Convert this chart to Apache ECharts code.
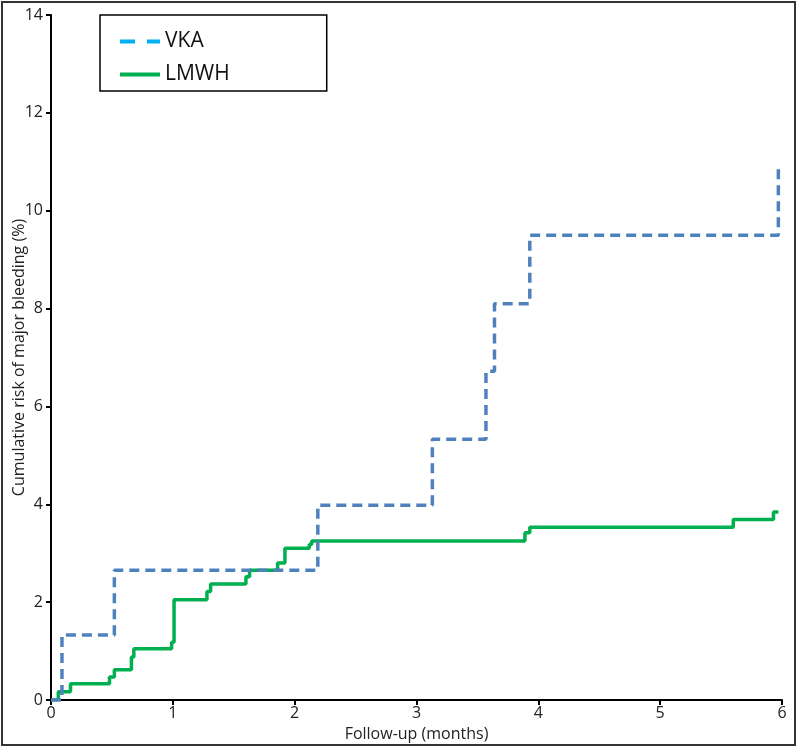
<!DOCTYPE html>
<html>
<head>
<meta charset="utf-8">
<script src="https://cdn.jsdelivr.net/npm/echarts@6/dist/echarts.min.js"></script>
<style>
html,body{margin:0;padding:0;background:#fff;}
#chart{width:797px;height:747px;}
</style>
</head>
<body>
<div id="chart"></div>
<script>
// Data (time in months, cumulative risk in %)
var vkaTimes  = [0, 0.09, 0.52, 2.19, 3.13, 3.57, 3.64, 3.93, 5.97];
var vkaRisk   = [0, 1.33, 2.65, 3.98, 5.33, 6.72, 8.10, 9.50, 10.92];
var lmwhTimes = [0, 0.06, 0.16, 0.48, 0.52, 0.66, 0.68, 0.99, 1.01, 1.28, 1.31, 1.60, 1.63, 1.86, 1.92, 2.12, 2.14, 3.89, 3.93, 5.60, 5.93, 5.97];
var lmwhRisk  = [0, 0.17, 0.33, 0.47, 0.62, 0.88, 1.05, 1.18, 2.05, 2.22, 2.37, 2.52, 2.65, 2.80, 3.10, 3.18, 3.25, 3.42, 3.53, 3.69, 3.84, 3.84];
var xTicks = [0, 1, 2, 3, 4, 5, 6];
var yTicks = [0, 2, 4, 6, 8, 10, 12, 14];

function pairs(xs, ys){ return xs.map(function(x,i){ return [x, ys[i]]; }); }

var FONT = 'Open Sans';
var chart = echarts.init(document.getElementById('chart'));
chart.setOption({
  animation: false,
  backgroundColor: '#fff',
  textStyle: {fontFamily: FONT},
  grid: {left: 51, right: 15, top: 15, bottom: 47, containLabel: false, outerBoundsMode: 'none'},
  graphic: [{
    type: 'rect', z: 100, silent: true,
    shape: {x: 2, y: 2, width: 793, height: 743},
    style: {fill: 'none', stroke: '#333', lineWidth: 2}
  }],
  legend: {
    left: 100, top: 15, orient: 'vertical',
    padding: [16, 97, 6, 20],
    itemGap: 12, itemWidth: 40, itemHeight: 4,
    borderColor: '#000', borderWidth: 1.5, borderRadius: 0,
    textStyle: {fontSize: 21, color: '#111', fontFamily: FONT},
    data: [
      {name: 'VKA', icon: 'path://M0,0 h15 v4 h-15 z M27,0 h13 v4 h-13 z', itemStyle: {color: '#00b0f0'}},
      {name: 'LMWH', icon: 'rect', itemStyle: {color: '#00b050'}}
    ]
  },
  xAxis: {
    type: 'value', min: 0, max: 6, interval: 1,
    name: 'Follow-up (months)', nameLocation: 'middle', nameGap: 26,
    nameTextStyle: {fontSize: 16, color: '#222', fontFamily: FONT},
    axisLine: {lineStyle: {color: '#000', width: 2}},
    axisTick: {show: true, length: 5, lineStyle: {color: '#000', width: 2}},
    axisLabel: {fontSize: 16, color: '#222', margin: 5, formatter: function(v){ return xTicks.indexOf(v) >= 0 ? String(v) : ''; }},
    splitLine: {show: false}
  },
  yAxis: {
    type: 'value', min: 0, max: 14, interval: 2,
    name: 'Cumulative risk of major bleeding (%)', nameLocation: 'middle', nameGap: 24,
    nameMoveOverlap: false,
    nameTextStyle: {fontSize: 16, color: '#222', fontFamily: FONT},
    axisLine: {show: true, lineStyle: {color: '#000', width: 2}},
    axisTick: {show: true, length: 5, lineStyle: {color: '#000', width: 2}},
    axisLabel: {fontSize: 16, color: '#222', margin: 8, formatter: function(v){ return yTicks.indexOf(v) >= 0 ? String(v) : ''; }},
    splitLine: {show: false}
  },
  series: [
    {
      name: 'VKA', type: 'line', step: 'end', symbol: 'none',
      data: pairs(vkaTimes, vkaRisk),
      lineStyle: {color: '#4f81bd', width: 3.5, type: [10, 6]},
      itemStyle: {color: '#4f81bd'}, z: 3
    },
    {
      name: 'LMWH', type: 'line', step: 'end', symbol: 'none',
      data: pairs(lmwhTimes, lmwhRisk),
      lineStyle: {color: '#00b050', width: 3.5},
      itemStyle: {color: '#00b050'}, z: 2
    }
  ]
});
</script>
</body>
</html>
